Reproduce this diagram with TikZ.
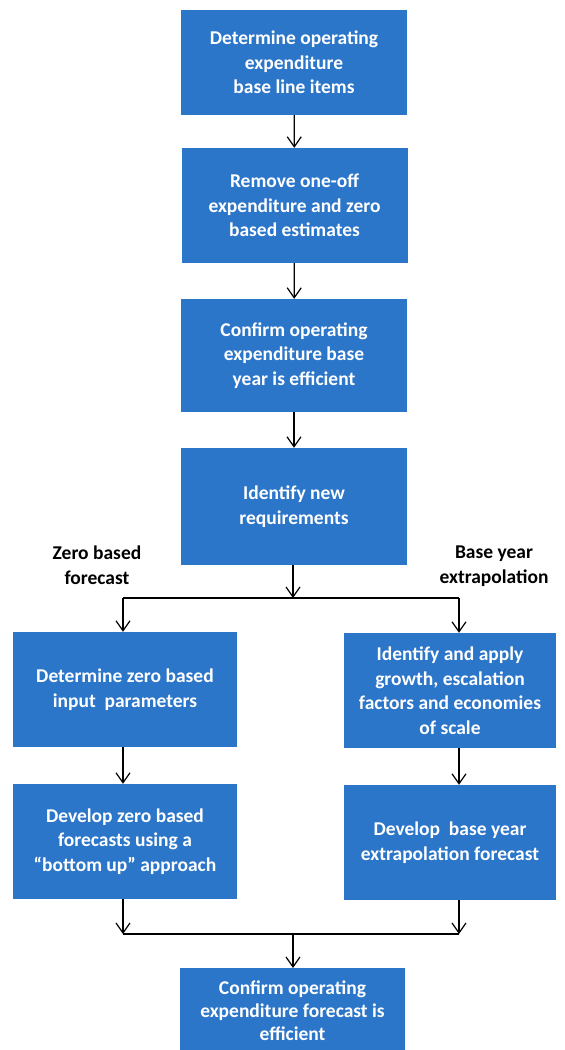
\documentclass[tikz,border=0pt]{standalone}
\usepackage{fontspec}
\setmainfont{Carlito}
\usetikzlibrary{arrows.meta}
\definecolor{boxblue}{RGB}{44,118,202}
\tikzset{
  procbox/.style={draw=none, fill=boxblue, text=white, font=\bfseries\fontsize{19.5}{24.5}\selectfont,
    align=center, inner sep=0pt, minimum width=#1},
  procbox/.default=226pt,
  lbl/.style={text=black, font=\bfseries\fontsize{19.5}{25}\selectfont, align=center, inner sep=0pt},
  arr/.style={draw=black, line width=1.3pt, -{Straight Barb[length=10pt,width=14pt,line width=1.2pt]}},
  ln/.style={draw=black, line width=1.3pt}
}
\begin{document}
\begin{tikzpicture}[x=1pt,y=-1pt]
\useasboundingbox (0,0) rectangle (565,1050);
\node[procbox, minimum height=105pt] (b1) at (294,62.5) {Determine operating\\expenditure\\base line items};
\node[procbox, minimum height=115pt] (b2) at (294.5,205.5) {Remove one-off\\expenditure and zero\\based estimates};
\node[procbox, minimum height=113pt] (b3) at (294,355.5) {Confirm operating\\expenditure base\\year is efficient};
\node[procbox, minimum height=117pt] (b4) at (294,506.5) {Identify new\\requirements};
\node[procbox=224pt, minimum height=115pt] (l1) at (125,689.5) {Determine zero based\\input\ \ parameters};
\node[procbox=212pt, minimum height=115pt] (r1) at (450,690.5) {Identify and apply\\growth, escalation\\factors and economies\\of scale};
\node[procbox=224pt, minimum height=115pt] (l2) at (125,841.5) {Develop zero based\\forecasts using a\\“bottom up” approach};
\node[procbox=212pt, minimum height=115pt] (r2) at (450,842.5) {Develop\ \ base year\\extrapolation forecast};
\node[procbox=225pt, minimum height=90pt, anchor=north] (fin) at (292.5,968) {};
\node[text=white, font=\bfseries\fontsize{19.5}{23}\selectfont, align=center, inner sep=0pt] (fintxt) at (292.5,1011) {Confirm operating\\expenditure forecast is\\efficient};
\node[lbl] (zlab) at (97,565) {Zero based\\forecast};
\node[lbl] (blab) at (494,566) {Base year\\extrapolation};
\coordinate (sp) at (293,598);
\coordinate (spL) at (123,598);
\coordinate (spR) at (459,598);
\coordinate (mg) at (293,934);
\coordinate (mgL) at (123,934);
\coordinate (mgR) at (459,934);
\draw[arr] (b1) -- (b2);
\draw[arr] (b2) -- (b3);
\draw[arr] (b3) -- (b4);
\draw[arr] (b4.south -| sp) -- (sp);
\draw[ln] (spL) -- (spR);
\draw[arr] (spL) -- (spL |- l1.north);
\draw[arr] (spR) -- (spR |- r1.north);
\draw[arr] (spL |- l1.south) -- (spL |- l2.north);
\draw[arr] (spR |- r1.south) -- (spR |- r2.north);
\draw[arr] (mgL |- l2.south) -- (mgL);
\draw[arr] (mgR |- r2.south) -- (mgR);
\draw[ln] (mgL) -- (mgR);
\draw[arr] (mg) -- (mg |- fin.north);
\end{tikzpicture}
\end{document}
